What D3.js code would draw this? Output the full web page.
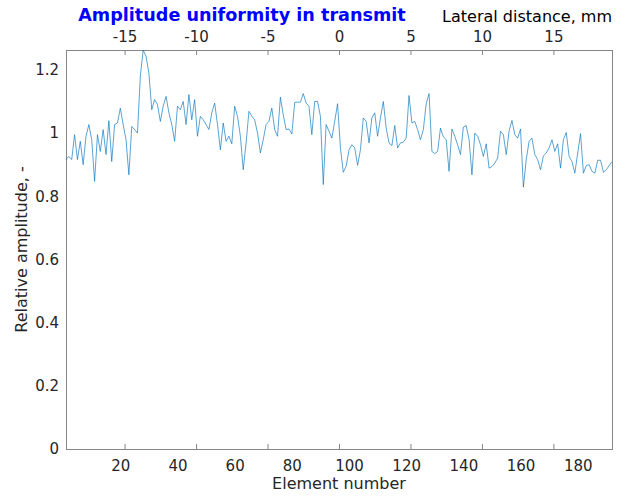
<!DOCTYPE html>
<html>
<head>
<meta charset="utf-8">
<script src="https://cdn.jsdelivr.net/npm/d3@7"></script>
<style>
  body { margin: 0; background: #fff; }
  svg { font-family: "DejaVu Sans", sans-serif; }
</style>
</head>
<body>
<div id="chart"></div>
<script>
// relative amplitude per element (1..192)
const amplitude = [
  0.916, 0.926, 0.916, 0.995, 0.916, 0.974, 0.900, 0.990, 1.027, 0.979,
  0.847, 0.995, 0.942, 1.011, 0.932, 1.039, 0.910, 1.027, 1.032, 1.079,
  1.027, 0.979, 0.868, 1.021, 1.011, 1.000, 1.180, 1.263, 1.243, 1.190,
  1.074, 1.106, 1.090, 1.037, 1.085, 1.116, 1.064, 1.027, 0.974, 1.085,
  1.074, 1.100, 1.027, 1.122, 1.042, 1.106, 0.990, 1.053, 1.042, 1.027,
  1.011, 1.064, 1.095, 1.027, 0.947, 1.032, 0.974, 0.990, 0.966, 1.085,
  1.053, 0.990, 0.884, 0.969, 1.069, 1.053, 1.042, 1.000, 0.937, 0.979,
  1.027, 1.037, 1.079, 1.011, 0.990, 1.114, 1.058, 1.011, 1.013, 0.997,
  1.097, 1.098, 1.098, 1.125, 1.095, 1.085, 0.995, 1.100, 1.100, 1.053,
  0.837, 1.027, 1.006, 0.984, 1.037, 1.093, 0.953, 0.876, 0.895, 0.947,
  0.963, 0.953, 0.898, 0.947, 1.048, 1.037, 0.969, 1.048, 1.064, 0.990,
  1.048, 1.100, 1.016, 0.969, 0.960, 1.024, 0.953, 0.969, 0.971, 0.984,
  1.119, 1.032, 1.037, 1.011, 0.979, 1.011, 1.093, 1.125, 0.942, 0.935,
  0.942, 1.016, 0.988, 0.979, 0.879, 1.013, 0.990, 0.963, 0.932, 1.019,
  1.024, 0.979, 0.868, 1.000, 0.990, 0.963, 0.926, 0.966, 0.889, 0.894,
  0.905, 0.921, 1.006, 0.995, 0.932, 1.006, 1.040, 0.995, 0.984, 1.013,
  0.829, 0.916, 0.974, 0.984, 0.932, 0.916, 0.884, 0.928, 0.937, 0.953,
  0.979, 0.942, 0.966, 0.889, 0.979, 1.002, 0.926, 0.910, 0.873, 0.937,
  0.998, 0.873, 0.897, 0.900, 0.879, 0.873, 0.914, 0.914, 0.876, 0.884,
  0.897, 0.910
];

const elementTicks = [20, 40, 60, 80, 100, 120, 140, 160, 180];
const mmTicks = [-15, -10, -5, 0, 5, 10, 15];
const yTicks = [0, 0.2, 0.4, 0.6, 0.8, 1, 1.2];
const pitch = 0.2; // mm per element

const W = 628, H = 500;
const margin = { top: 50, right: 16, bottom: 51, left: 66 };
const innerW = W - margin.left - margin.right;
const innerH = H - margin.top - margin.bottom;

const nEl = amplitude.length;
const data = amplitude.map((v, i) => ({ el: i + 1, v: v }));
const centre = (1 + nEl) / 2;

const svg = d3.select("#chart").append("svg")
  .attr("width", W)
  .attr("height", H);

const g = svg.append("g")
  .attr("transform", `translate(${margin.left},${margin.top})`);

// tight axes like matlab
const x = d3.scaleLinear().domain([1, nEl]).range([0, innerW]);
const xmm = d3.scaleLinear()
  .domain([(1 - centre) * pitch, (nEl - centre) * pitch])
  .range([0, innerW]);
const y = d3.scaleLinear().domain([0, d3.max(amplitude)]).range([innerH, 0]);

const axisColor = "#868686";
const textColor = "#262626";

// bottom: element numbers, no tick marks
const xAxis = g.append("g")
  .attr("transform", `translate(0,${innerH})`)
  .call(d3.axisBottom(x).tickValues(elementTicks).tickSize(0).tickPadding(11));

// left axis
const yAxis = g.append("g")
  .call(d3.axisLeft(y).tickValues(yTicks).tickSize(0).tickPadding(7)
    .tickFormat(d => String(d)));

// top: lateral distance in mm, ticks pointing inwards
const topAxis = g.append("g")
  .call(d3.axisTop(xmm).tickValues(mmTicks).tickSizeInner(-5).tickSizeOuter(0).tickPadding(8)
    .tickFormat(d => String(d)));

// the same mm ticks mirrored on the bottom edge
const botMirror = g.append("g")
  .attr("transform", `translate(0,${innerH})`)
  .call(d3.axisBottom(xmm).tickValues(mmTicks).tickSizeInner(-5).tickSizeOuter(0).tickFormat(""));

[xAxis, yAxis, topAxis, botMirror].forEach(a => {
  a.select(".domain").remove();
  a.selectAll(".tick line").attr("stroke", axisColor);
  a.selectAll(".tick text")
    .attr("fill", textColor)
    .style("font-family", "DejaVu Sans")
    .style("font-size", "15px");
});

// box
g.append("rect")
  .attr("x", 0).attr("y", 0)
  .attr("width", innerW).attr("height", innerH)
  .attr("fill", "none")
  .attr("stroke", axisColor)
  .attr("stroke-width", 1)
  .attr("shape-rendering", "crispEdges");

// the trace
const line = d3.line()
  .x(d => x(d.el))
  .y(d => y(d.v));

g.append("path")
  .datum(data)
  .attr("d", line)
  .attr("fill", "none")
  .attr("stroke", "#0072BD")
  .attr("stroke-width", 0.65)
  .attr("stroke-linejoin", "round");

// labels
svg.append("text")
  .attr("x", margin.left + innerW / 2)
  .attr("y", 489)
  .attr("text-anchor", "middle")
  .attr("fill", textColor)
  .style("font-size", "16px")
  .text("Element number");

svg.append("text")
  .attr("transform", `translate(27,${margin.top + innerH / 2}) rotate(-90)`)
  .attr("text-anchor", "middle")
  .attr("fill", textColor)
  .style("font-size", "16px")
  .text("Relative amplitude, -");

svg.append("text")
  .attr("x", margin.left + innerW)
  .attr("y", 22)
  .attr("text-anchor", "end")
  .attr("fill", "#000")
  .style("font-size", "16px")
  .text("Lateral distance, mm");

svg.append("text")
  .attr("x", 242)
  .attr("y", 21)
  .attr("text-anchor", "middle")
  .attr("fill", "#0000ff")
  .style("font-size", "17.6px")
  .style("font-weight", "bold")
  .text("Amplitude uniformity in transmit");
</script>
</body>
</html>
